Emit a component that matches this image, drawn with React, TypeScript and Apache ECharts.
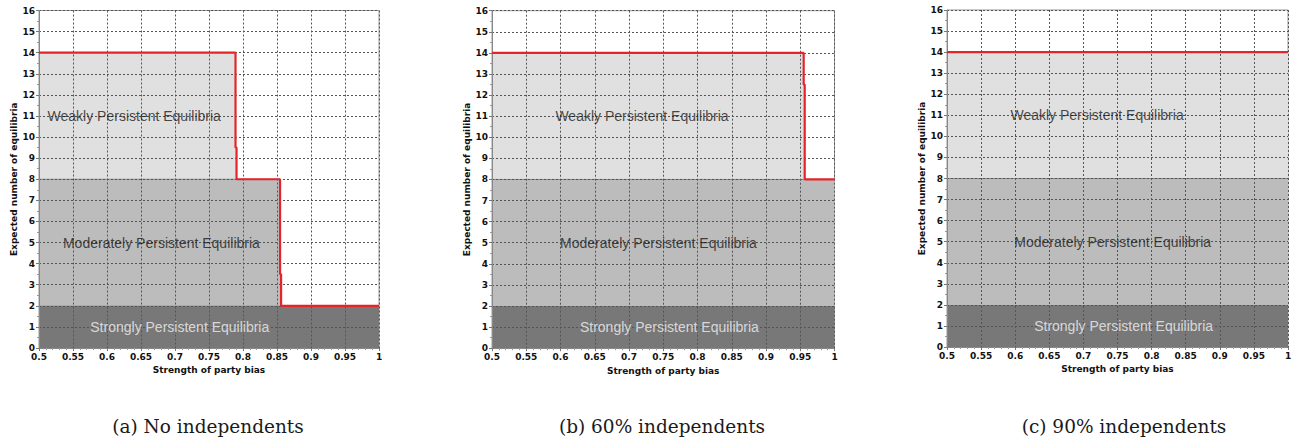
import React, { useEffect, useRef } from "react";
import * as echarts from "echarts";

// Panel captions and band names
const panelCaptions = ["(a) No independents", "(b) 60% independents", "(c) 90% independents"];
const bandNames = ["Weakly Persistent Equilibria", "Moderately Persistent Equilibria", "Strongly Persistent Equilibria"];
const moderateCap = 8; // top of the moderately persistent band
const strongCap = 2; // top of the strongly persistent band

// Expected number of equilibria against strength of party bias (step curves)
const noIndepBias = [0.5, 0.789, 0.789, 0.7905, 0.7905, 0.8545, 0.8545, 0.856, 0.856, 1];
const noIndepCount = [14, 14, 9.5, 9.5, 8, 8, 3.5, 3.5, 2, 2];
const sixtyBias = [0.5, 0.955, 0.955, 0.9565, 0.9565, 1];
const sixtyCount = [14, 14, 12.5, 12.5, 8, 8];
const ninetyBias = [0.5, 1];
const ninetyCount = [14, 14];

// Axis ranges
const xMin = 0.5;
const xMax = 1;
const xStep = 0.05;
const yMin = 0;
const yMax = 16;
const yStep = 1;

const panels = [
  { bias: noIndepBias, count: noIndepCount },
  { bias: sixtyBias, count: sixtyCount },
  { bias: ninetyBias, count: ninetyCount },
];

// Layout: plot rectangles, band label anchors (data coords), caption centres
const grids = [
  { left: 39, top: 10.5, width: 340, height: 337.5 },
  { left: 492, top: 10.7, width: 342.5, height: 337.5 },
  { left: 947, top: 10, width: 341, height: 337 },
];
const labelAnchors = [
  [[0.64, 11], [0.68, 5], [0.707, 1]],
  [[0.719, 11], [0.743, 5], [0.759, 1]],
  [[0.72, 11], [0.743, 5], [0.759, 1]],
];
const captionX = [208, 662, 1124];
const captionY = 426;

const tickFont = "'DejaVu Sans', sans-serif";

export default function App() {
  const ref = useRef<HTMLDivElement>(null);

  useEffect(() => {
    if (!ref.current) return;
    const chart = echarts.init(ref.current, undefined, { renderer: "svg" });

    const xAxes: any[] = [];
    const yAxes: any[] = [];
    const series: any[] = [];

    panels.forEach((p, i) => {
      const pts = p.bias.map((x, k) => [x, p.count[k]]);
      const modPts = p.bias.map((x, k) => [x, Math.min(p.count[k], moderateCap)]);
      const strPts = p.bias.map((x, k) => [x, Math.min(p.count[k], strongCap)]);

      xAxes.push({
        type: "value",
        gridIndex: i,
        min: xMin,
        max: xMax,
        interval: xStep,
        z: 5,
        name: "Strength of party bias",
        nameLocation: "middle",
        nameGap: 16,
        nameTextStyle: { fontFamily: tickFont, fontWeight: "bold", fontSize: 9, color: "#111" },
        axisLine: { show: true, lineStyle: { color: "#888", width: 1 } },
        axisTick: { show: true, length: 3, lineStyle: { color: "#777" } },
        minorTick: { show: true, splitNumber: 5, length: 2, lineStyle: { color: "#999" } },
        axisLabel: {
          fontFamily: tickFont,
          fontWeight: "bold",
          fontSize: 9,
          color: "#111",
          margin: 4,
          formatter: (v: number) => String(+v.toFixed(2)),
        },
        splitLine: { show: true, lineStyle: { color: "#555", width: 1, type: [2, 2] } },
      });
      yAxes.push({
        type: "value",
        gridIndex: i,
        min: yMin,
        max: yMax,
        interval: yStep,
        z: 5,
        name: "Expected number of equilibria",
        nameLocation: "middle",
        nameGap: 19,
        nameTextStyle: { fontFamily: tickFont, fontWeight: "bold", fontSize: 9, color: "#111" },
        axisLine: { show: true, lineStyle: { color: "#888", width: 1 } },
        axisTick: { show: true, length: 3, lineStyle: { color: "#777" } },
        minorTick: { show: true, splitNumber: 2, length: 2, lineStyle: { color: "#999" } },
        axisLabel: { fontFamily: tickFont, fontWeight: "bold", fontSize: 9, color: "#111", margin: 4 },
        splitLine: { show: true, lineStyle: { color: "#555", width: 1, type: [2, 2] } },
      });

      const common = { type: "line", xAxisIndex: i, yAxisIndex: i, symbol: "none", silent: true };
      series.push({
        ...common,
        name: bandNames[0],
        data: pts,
        z: 1,
        lineStyle: { width: 0 },
        areaStyle: { color: "#e0e0e0", opacity: 1 },
      });
      series.push({
        ...common,
        name: bandNames[1],
        data: modPts,
        z: 1,
        lineStyle: { width: 1, color: "#8a8a8a" },
        areaStyle: { color: "#bcbcbc", opacity: 1 },
      });
      series.push({
        ...common,
        name: bandNames[2],
        data: strPts,
        z: 1,
        lineStyle: { width: 0 },
        areaStyle: { color: "#787878", opacity: 1 },
      });
      series.push({
        ...common,
        name: "expected",
        data: pts,
        z: 10,
        lineStyle: { width: 2.2, color: "#e3252b" },
      });
      series.push({
        type: "scatter",
        xAxisIndex: i,
        yAxisIndex: i,
        symbolSize: 0,
        silent: true,
        z: 11,
        data: labelAnchors[i].map((c, k) => ({ value: c, name: bandNames[k] })),
        label: {
          show: true,
          position: "inside",
          formatter: "{b}",
          fontFamily: "'Liberation Sans', Arial, sans-serif",
          fontSize: 14,
          color: "#1a1a1a",
        },
      });
      // strongly persistent label in light text
      series[series.length - 1].data[2].label = { color: "#f2f2f2" };
    });

    chart.setOption({
      animation: false,
      backgroundColor: "#ffffff",
      grid: grids.map((g) => ({ ...g, show: true, borderColor: "#999", borderWidth: 1, backgroundColor: "transparent" })),
      xAxis: xAxes,
      yAxis: yAxes,
      series,
      graphic: panelCaptions.map((t, i) => ({
        type: "text",
        x: captionX[i],
        y: captionY,
        style: {
          text: t,
          fontFamily: "'DejaVu Serif', serif",
          fontSize: 18.5,
          fill: "#1a1a1a",
          textAlign: "center",
          textVerticalAlign: "middle",
        },
      })),
    });

    return () => chart.dispose();
  }, []);

  return (
    <div
      ref={ref}
      style={{ position: "fixed", left: 0, top: 0, width: 1297, height: 440, background: "#fff" }}
    />
  );
}
